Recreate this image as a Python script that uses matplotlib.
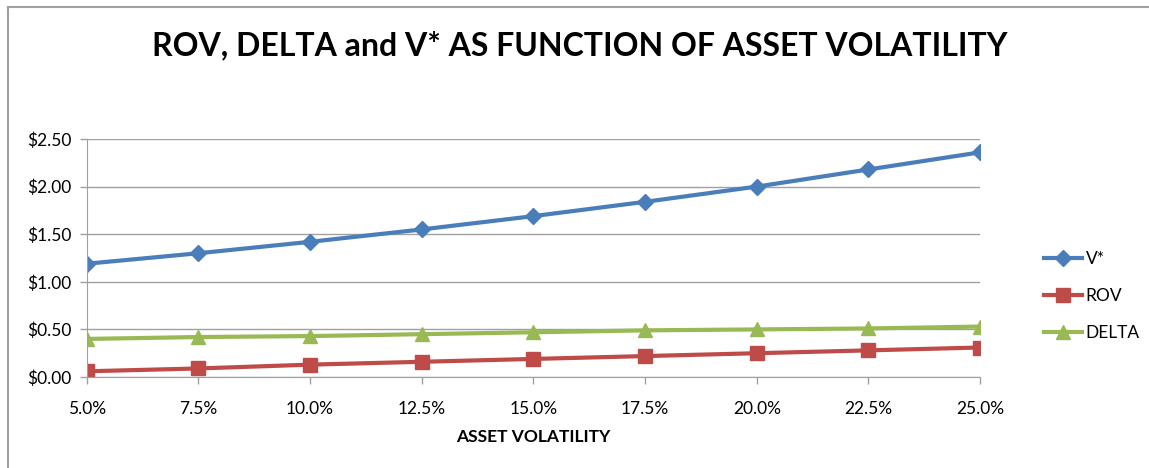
import matplotlib.pyplot as plt
from matplotlib.lines import Line2D
import numpy as np

# Data
volatility = ['5.0%', '7.5%', '10.0%', '12.5%', '15.0%', '17.5%', '20.0%', '22.5%', '25.0%']
v_star = [1.19, 1.30, 1.42, 1.55, 1.69, 1.84, 2.00, 2.18, 2.36]
rov = [0.06, 0.09, 0.13, 0.16, 0.19, 0.22, 0.25, 0.28, 0.31]
delta = [0.40, 0.42, 0.43, 0.45, 0.47, 0.49, 0.50, 0.51, 0.53]

plt.rcParams['font.family'] = ['Lato', 'DejaVu Sans']

fig = plt.figure(figsize=(11.49, 4.68), dpi=100)
ax = fig.add_axes([0.0755, 0.1944, 0.7775, 0.5086])

x = np.arange(len(volatility))
ax.plot(x, v_star, color='#4a7ebb', lw=3, marker='D', ms=8, label='V*')
ax.plot(x, rov, color='#be4b48', lw=3, marker='s', ms=10, label='ROV')
ax.plot(x, delta, color='#98b954', lw=3, marker='^', ms=10, label='DELTA')

ax.set_xlim(0, len(volatility) - 1)
ax.set_ylim(0, 2.5)
ax.set_xticks(x)
ax.set_xticklabels(volatility, fontsize=12.5)
ax.set_yticks(np.arange(0, 2.51, 0.5))
ax.set_yticklabels(['$%.2f' % v for v in np.arange(0, 2.51, 0.5)], fontsize=12.5)
ax.grid(axis='y', color='#a0a0a0', lw=1)
ax.set_axisbelow(True)
for s in ['top', 'right']:
    ax.spines[s].set_visible(False)
for s in ['left', 'bottom']:
    ax.spines[s].set_color('#a0a0a0')
ax.tick_params(axis='both', color='#a0a0a0', length=5, width=1)
ax.tick_params(axis='x', pad=12)
ax.tick_params(axis='y', pad=6)
ax.set_xlabel('ASSET VOLATILITY', fontsize=12.5, fontweight='bold', labelpad=9)

fig.suptitle('ROV, DELTA and V* AS FUNCTION OF ASSET VOLATILITY',
             x=0.505, y=0.935, fontsize=23, fontweight='bold')

fig.legend(loc='center left', bbox_to_anchor=(0.895, 0.3675), frameon=False,
           fontsize=12.5, labelspacing=1.2, handlelength=2.2, handletextpad=0.2)

# chart border
fig.add_artist(Line2D([8 / 1149, 1], [1 - 7 / 468, 1 - 7 / 468], color='#a0a0a0', lw=1.5))
fig.add_artist(Line2D([8 / 1149, 8 / 1149], [0, 1 - 7 / 468], color='#a0a0a0', lw=1.5))

fig.savefig('out.png', dpi=100)
